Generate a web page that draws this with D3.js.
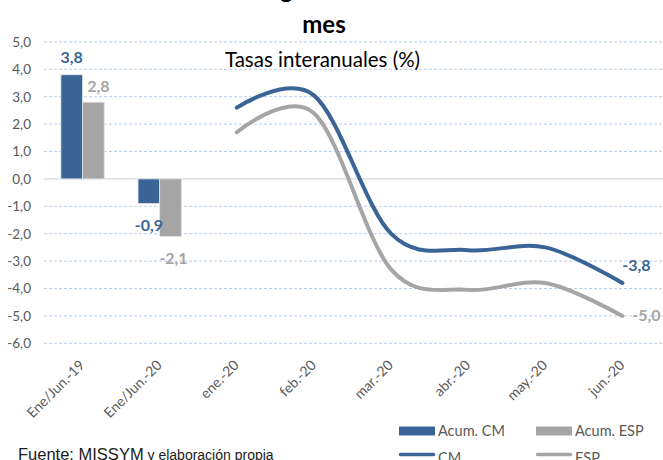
<!DOCTYPE html>
<html><head><meta charset="utf-8">
<script src="https://cdn.jsdelivr.net/npm/d3@7"></script>
<style>body{margin:0;background:#fff;} svg{display:block;font-family:Lato,"Open Sans",sans-serif;}</style>
</head><body><div id="chart"></div>
<script>
const categories = ["Ene/Jun.-19","Ene/Jun.-20","ene.-20","feb.-20","mar.-20","abr.-20","may.-20","jun.-20"];
const barCategories = ["Ene/Jun.-19","Ene/Jun.-20"];
const acumCM = [3.8, -0.9];
const acumESP = [2.8, -2.1];
const lineCategories = ["ene.-20","feb.-20","mar.-20","abr.-20","may.-20","jun.-20"];
const cm = [2.6, 3.05, -2.0, -2.6, -2.5, -3.8];
const esp = [1.7, 2.4, -3.3, -4.05, -3.8, -5.0];
const yTicks = [5,4,3,2,1,0,-1,-2,-3,-4,-5,-6];
const titleLines = ["Afiliación según el último día del", "mes"];
const subtitle = "Tasas interanuales (%)";
const source = ["Fuente: MISSYM", " y elaboración propia"];

const W = 663, H = 460;
const cBlue = "#3A6496", cGray = "#A5A5A5", cText = "#595959";
const fmt = v => d3.format(".1f")(v).replace(".", ",").replace("−","-");

const svg = d3.select("#chart").append("svg").attr("width", W).attr("height", H);

const x = d3.scaleBand().domain(categories).range([44, 661]);
const y = d3.scaleLinear().domain([-6, 5]).range([343.3, 41.9]);

// gridlines
svg.append("g").selectAll("line").data(yTicks.filter(d => d !== 0)).join("line")
  .attr("x1", 44).attr("x2", 663).attr("y1", d => y(d)).attr("y2", d => y(d))
  .attr("stroke", "#B9CDE8").attr("stroke-width", 1).attr("stroke-dasharray", "3,2");
svg.append("line").attr("x1", 44).attr("x2", 663).attr("y1", y(0)).attr("y2", y(0))
  .attr("stroke", "#D9D9D9").attr("stroke-width", 1.2);

// y axis
const yAxis = d3.axisLeft(y).tickValues(yTicks).tickFormat(fmt).tickSize(0).tickPadding(0);
const gy = svg.append("g").attr("transform", "translate(31,0)").call(yAxis);
gy.select(".domain").remove();
gy.selectAll("text").attr("fill", cText).style("font-size", "13.5px").style("font-family", "Lato");

// x axis labels
const xAxis = d3.axisBottom(x).tickSize(0).tickPadding(0);
const gx = svg.append("g").call(xAxis);
gx.select(".domain").remove();
gx.selectAll(".tick").attr("transform", d => `translate(${x(d) + x.bandwidth()/2 + 3},366)`);
gx.selectAll("text").attr("fill", cText).style("font-size", "14px").style("font-family", "Lato")
  .attr("text-anchor", "end").attr("dy", 0).attr("y", 0).attr("transform", "rotate(-45)");

// bars
const xs = d3.scaleBand().domain(["cm","esp"]).range([0, x.bandwidth()]).paddingInner(0).paddingOuter(0.78);
const barData = barCategories.map((c, i) => ({c, cm: acumCM[i], esp: acumESP[i]}));
const bg = svg.append("g");
barData.forEach(d => {
  [["cm", d.cm, cBlue], ["esp", d.esp, cGray]].forEach(([k, v, col]) => {
    bg.append("rect").attr("x", x(d.c) + xs(k)).attr("width", xs.bandwidth())
      .attr("y", y(Math.max(0, v))).attr("height", Math.abs(y(v) - y(0)))
      .attr("fill", col).attr("stroke", "#E3E3E3").attr("stroke-width", 0.8);
  });
});

// bar labels
const lbl = svg.append("g").style("font-family", "Lato").style("font-weight", "bold").style("font-size", "16px").attr("text-anchor", "middle");
lbl.append("text").attr("x", x(barCategories[0]) + xs("cm") + xs.bandwidth()/2).attr("y", y(acumCM[0]) - 12).attr("fill", cBlue).text(fmt(acumCM[0]));
lbl.append("text").attr("x", x(barCategories[0]) + xs("esp") + xs.bandwidth()/2 + 5).attr("y", y(acumESP[0]) - 10).attr("fill", cGray).text(fmt(acumESP[0]));
lbl.append("text").attr("x", x(barCategories[1]) + xs("cm") + xs.bandwidth()/2).attr("y", y(acumCM[1]) + 27).attr("fill", cBlue).text(fmt(acumCM[1]));
lbl.append("text").attr("x", x(barCategories[1]) + xs("esp") + xs.bandwidth()/2 + 3).attr("y", y(acumESP[1]) + 28).attr("fill", cGray).text(fmt(acumESP[1]));

// lines
const line = d3.line().x((d, i) => x(lineCategories[i]) + x.bandwidth()/2).y(d => y(d)).curve(d3.curveCardinal.tension(0));
svg.append("path").datum(esp).attr("d", line).attr("fill", "none").attr("stroke", cGray).attr("stroke-width", 4).attr("stroke-linecap", "round");
svg.append("path").datum(cm).attr("d", line).attr("fill", "none").attr("stroke", cBlue).attr("stroke-width", 4).attr("stroke-linecap", "round");

// end labels
const last = lineCategories.length - 1;
lbl.append("text").attr("x", x(lineCategories[last]) + x.bandwidth()/2 + 14).attr("y", y(cm[last]) - 12).attr("fill", cBlue).text(fmt(cm[last]));
lbl.append("text").attr("x", x(lineCategories[last]) + x.bandwidth()/2 + 24).attr("y", y(esp[last]) + 5).attr("fill", cGray).text(fmt(esp[last]));

// titles
svg.append("text").attr("x", 323).attr("y", -2).attr("text-anchor", "middle").style("font-weight", "bold").style("font-size", "24px").attr("fill", "#000").text(titleLines[0]);
svg.append("text").attr("x", 324).attr("y", 33).attr("text-anchor", "middle").style("font-weight", "bold").style("font-size", "24px").attr("fill", "#000").text(titleLines[1]);
svg.append("text").attr("x", 322.5).attr("y", 67).attr("text-anchor", "middle").style("font-size", "20.5px").attr("fill", "#000").text(subtitle);

// legend
const legend = [
  {name: "Acum. CM", col: cBlue, type: "rect", x: 399, y: 431},
  {name: "Acum. ESP", col: cGray, type: "rect", x: 536, y: 431},
  {name: "CM", col: cBlue, type: "line", x: 399, y: 454.5},
  {name: "ESP", col: cGray, type: "line", x: 536, y: 454.5}
];
const lg = svg.append("g");
legend.forEach(l => {
  if (l.type === "rect") lg.append("rect").attr("x", l.x).attr("y", l.y - 4.5).attr("width", 36).attr("height", 9).attr("fill", l.col);
  else lg.append("line").attr("x1", l.x + 1.5).attr("x2", l.x + 34.5).attr("y1", l.y).attr("y2", l.y).attr("stroke", l.col).attr("stroke-width", 3.5).attr("stroke-linecap", "round");
  lg.append("text").attr("x", l.x + 39).attr("y", l.y + 5 + (l.type === "line" ? 3.5 : 0)).attr("fill", cText).style("font-size", "14.5px").text(l.name);
});

// source
const st = svg.append("text").attr("x", 18).attr("y", 460).attr("fill", "#1a1a1a").style("font-family", "'Liberation Sans', Arial, sans-serif");
st.append("tspan").style("font-size", "16.5px").text(source[0]);
st.append("tspan").style("font-size", "14px").text(source[1]);
</script></body></html>
